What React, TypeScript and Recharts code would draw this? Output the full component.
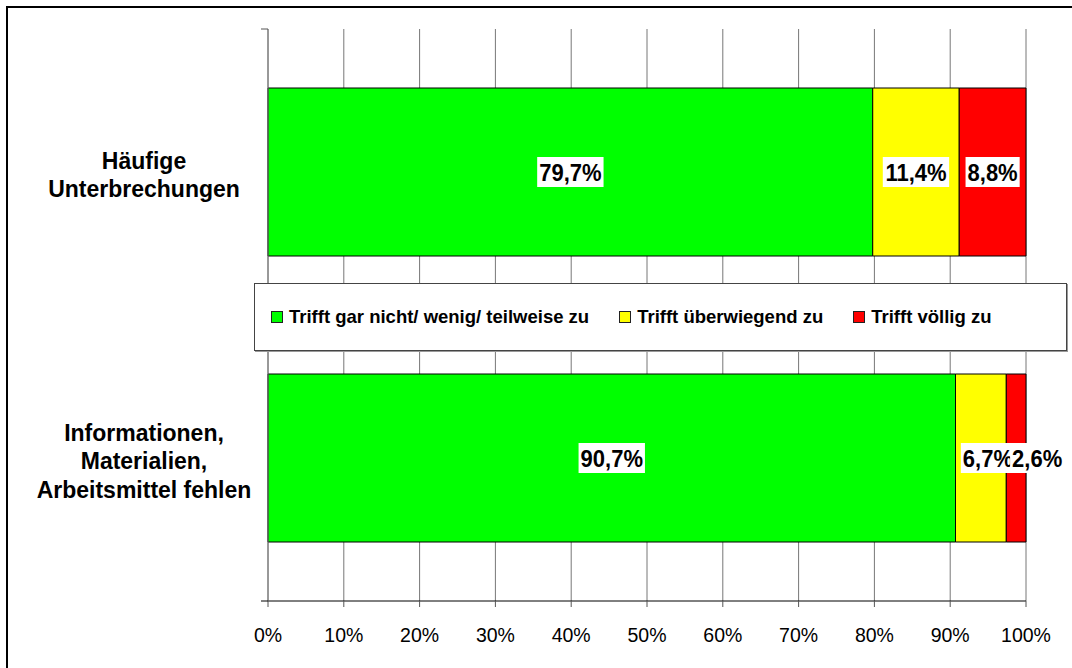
import { BarChart, Bar, XAxis, YAxis, CartesianGrid, Legend, LabelList } from 'recharts';

const CATEGORIES = ['Häufige\nUnterbrechungen', 'Informationen,\nMaterialien,\nArbeitsmittel fehlen'];
const SERIES_NAMES = ['Trifft gar nicht/ wenig/ teilweise zu', 'Trifft überwiegend zu', 'Trifft völlig zu'];
const LOW = [79.7, 90.7];
const MID = [11.4, 6.7];
const HIGH = [8.8, 2.6];
const X_TICKS = [0, 0.1, 0.2, 0.3, 0.4, 0.5, 0.6, 0.7, 0.8, 0.9, 1];

const KEYS = ['low', 'mid', 'high'];
const COLORS = ['#00ff00', '#ffff00', '#ff0000'];
const FONT = '"Liberation Sans", Arial, sans-serif';

const data = CATEGORIES.map((category, i) => ({ category, low: LOW[i], mid: MID[i], high: HIGH[i] }));

const fmt = (v: number) => v.toFixed(1).replace('.', ',') + '%';

// rough Arial Bold advance widths
const textWidth = (s: string, size: number) =>
    s.split('').reduce((w, c) => w + (c === ',' ? 0.278 : c === '%' ? 0.889 : 0.556), 0) * size;

function ValueLabel(props: any) {
    const { x, y, width, height, value } = props;
    const label = fmt(Number(value));
    const shift = width < 30 ? 21 : width < 60 ? 7 : 0;
    const cx = x + width / 2 + shift;
    const cy = y + height / 2;
    const w = textWidth(label, 22) + 4;
    return (
        <g>
            <rect x={cx - w / 2} y={cy - 15} width={w} height={30} fill="#fff" />
            <g transform={`translate(${cx},${cy}) scale(1,1.12)`}>
                <text x={0} y={8} textAnchor="middle" fontFamily={FONT} fontWeight="bold" fontSize={22} fill="#000">
                    {label}
                </text>
            </g>
        </g>
    );
}

function CategoryTick(props: any) {
    const { x, y, payload } = props;
    const lines = String(payload.value).split('\n');
    return (
        <g>
            <line x1={x - 7} x2={x} y1={y - 143} y2={y - 143} stroke="#555" />
            <line x1={x - 7} x2={x} y1={y + 143} y2={y + 143} stroke="#000" />
            {lines.map((line, i) => (
                <text
                    key={i}
                    x={x - 124}
                    y={y + 11 + (i - (lines.length - 1) / 2) * 28.5}
                    textAnchor="middle"
                    fontFamily={FONT}
                    fontWeight="bold"
                    fontSize={23}
                    fill="#000"
                >
                    {line}
                </text>
            ))}
        </g>
    );
}

function LegendBox() {
    return (
        <div style={{ display: 'flex', alignItems: 'center', height: '100%', paddingLeft: 16, fontFamily: FONT, fontWeight: 'bold', fontSize: 18.5, color: '#000' }}>
            {SERIES_NAMES.map((name, i) => (
                <div key={name} style={{ display: 'flex', alignItems: 'center', marginRight: 30 }}>
                    <span style={{ width: 12, height: 12, boxSizing: 'border-box', background: COLORS[i], border: '1px solid #222', marginRight: 6 }} />
                    <span>{name}</span>
                </div>
            ))}
        </div>
    );
}

export default function App() {
    return (
        <div style={{ position: 'fixed', left: 0, top: 0, width: 1072, height: 668, overflow: 'hidden', background: '#fff' }}>
            <div style={{ position: 'absolute', left: 6, top: 6, width: 1100, height: 700, border: '2px solid #000' }} />
            <div style={{ position: 'absolute', left: 0, top: 0 }}>
                <BarChart
                    width={1072}
                    height={668}
                    data={data}
                    layout="vertical"
                    stackOffset="expand"
                    barSize={168}
                    margin={{ top: 29, right: 46, left: 0, bottom: 0 }}
                >
                    <CartesianGrid vertical horizontal={false} stroke="#777" />
                    <XAxis
                        type="number"
                        domain={[0, 1]}
                        ticks={X_TICKS}
                        tickFormatter={(v: number) => `${Math.round(v * 100)}%`}
                        height={67}
                        tickSize={6}
                        tickMargin={21}
                        axisLine={{ stroke: '#000' }}
                        tickLine={{ stroke: '#555' }}
                        tick={{ fontFamily: FONT, fontSize: 19.5, fill: '#000' }}
                    />
                    <YAxis
                        type="category"
                        dataKey="category"
                        width={268}
                        interval={0}
                        tickSize={0}
                        tickMargin={0}
                        tickLine={false}
                        axisLine={{ stroke: '#777' }}
                        tick={<CategoryTick />}
                    />
                    <Legend
                        layout="horizontal"
                        verticalAlign="middle"
                        align="center"
                        content={<LegendBox />}
                        wrapperStyle={{
                            left: 254,
                            top: 283,
                            width: 813,
                            height: 68,
                            boxSizing: 'border-box',
                            background: '#fff',
                            border: '1px solid #444',
                            boxShadow: '1px 1px 0 #999',
                        }}
                    />
                    {KEYS.map((key, i) => (
                        <Bar key={key} dataKey={key} name={SERIES_NAMES[i]} stackId="a" fill={COLORS[i]} stroke="#000" strokeWidth={1} isAnimationActive={false}>
                            <LabelList dataKey={key} content={<ValueLabel />} />
                        </Bar>
                    ))}
                </BarChart>
            </div>
        </div>
    );
}
